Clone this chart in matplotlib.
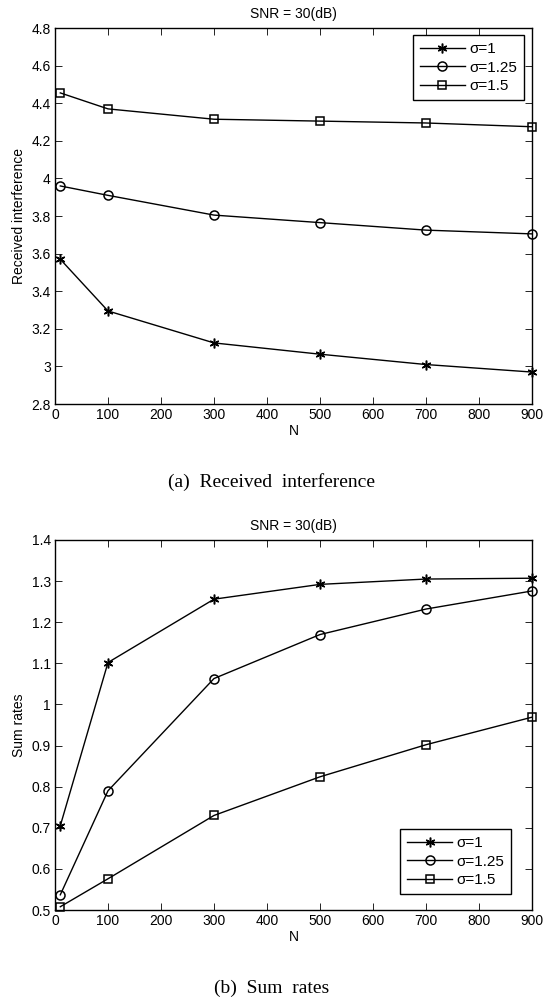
import matplotlib
matplotlib.use("Agg")
import matplotlib.pyplot as plt

plt.rcParams['font.family'] = ['Liberation Sans', 'DejaVu Sans']

N = [10, 100, 300, 500, 700, 900]
labels = ['σ=1', 'σ=1.25', 'σ=1.5']
markers = [(6, 2, 0), 'o', 's']

# (a) received interference
interf = [
    [3.57, 3.295, 3.125, 3.065, 3.01, 2.97],
    [3.96, 3.91, 3.805, 3.765, 3.725, 3.705],
    [4.455, 4.37, 4.315, 4.305, 4.295, 4.275],
]
# (b) sum rates
rates = [
    [0.705, 1.102, 1.256, 1.292, 1.305, 1.307],
    [0.537, 0.79, 1.063, 1.17, 1.232, 1.276],
    [0.508, 0.576, 0.73, 0.824, 0.902, 0.969],
]

fig = plt.figure(figsize=(5.44, 10.02), dpi=100)
ax1 = fig.add_axes([0.1011, 0.5968, 0.8768, 0.3752])
ax2 = fig.add_axes([0.1011, 0.0918, 0.8768, 0.3693])


def draw(ax, data, ylim, yticks, ylabel, loc, anchor):
    for y, m, lab in zip(data, markers, labels):
        ms = {'o': 6.5, 's': 5.5}.get(m, 7)
        ax.plot(N, y, color='black', lw=1, marker=m, ms=ms,
                mfc='none', mec='black', mew=1.1,
                label=lab, clip_on=False)
    ax.set_xlim(0, 900)
    ax.set_ylim(*ylim)
    ax.set_xticks(range(0, 901, 100))
    ax.set_yticks(yticks)
    ax.set_yticklabels([('%g' % t) for t in yticks])
    ax.tick_params(direction='in', top=True, right=True, labelsize=10, length=5, width=0.6, pad=3)
    ax.set_xlabel('N', fontsize=10, labelpad=1)
    ax.set_ylabel(ylabel, fontsize=10, labelpad=4)
    ax.set_title('SNR = 30(dB)', fontsize=10, pad=7)
    for s in ax.spines.values():
        s.set_linewidth(1)
    leg = ax.legend(loc=loc, bbox_to_anchor=anchor, fontsize=11, fancybox=False, framealpha=1,
                    edgecolor='black', handlelength=2.9, borderaxespad=0,
                    labelspacing=0.3, handletextpad=0.3, borderpad=0.45)
    leg.get_frame().set_linewidth(1)


draw(ax1, interf, (2.8, 4.8), [2.8, 3.0, 3.2, 3.4, 3.6, 3.8, 4.0, 4.2, 4.4, 4.6, 4.8],
     'Received interference', 'upper right', (0.983, 0.981))
draw(ax2, rates, (0.5, 1.4), [0.5, 0.6, 0.7, 0.8, 0.9, 1.0, 1.1, 1.2, 1.3, 1.4],
     'Sum rates', 'lower right', (0.956, 0.043))

fig.text(0.5, 1 - 482 / 1002, '(a)  Received  interference', ha='center', va='center',
         fontsize=14, family='Liberation Serif')
fig.text(0.5, 1 - 988 / 1002, '(b)  Sum  rates', ha='center', va='center',
         fontsize=14, family='Liberation Serif')

fig.savefig('out.png', dpi=100)
